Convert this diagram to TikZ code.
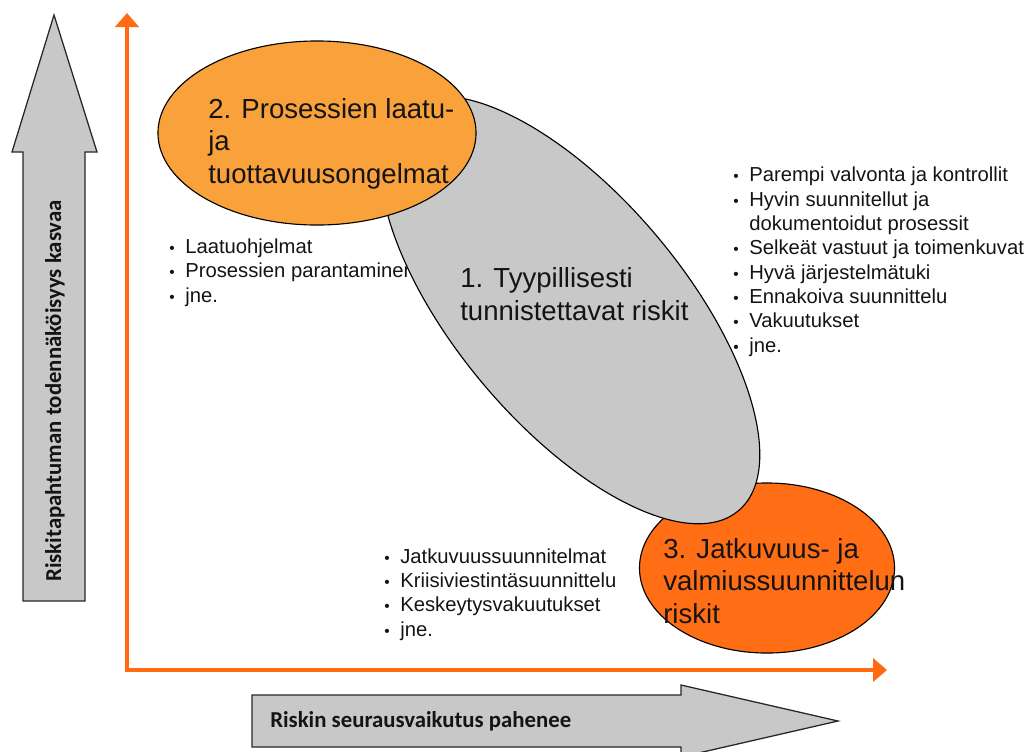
\documentclass[tikz,border=0pt]{standalone}
\usepackage{fontspec}
\setmainfont{Liberation Sans}
\newfontfamily\axisfont{Carlito}
\usetikzlibrary{shapes.geometric, arrows.meta, positioning}
\definecolor{axisorange}{RGB}{255,106,19}
\definecolor{lightorange}{RGB}{249,162,60}
\definecolor{darkorange}{RGB}{255,110,20}
\definecolor{riskgray}{RGB}{200,200,200}
\definecolor{textdark}{RGB}{20,20,20}
\newcommand{\bul}{\makebox[0.4cm][l]{\fontsize{11}{11}\selectfont\textbullet}}
\tikzset{
  riskell/.style={ellipse, draw=black, line width=0.8pt, inner sep=0pt},
  title/.style={align=left, font=\fontsize{19.6}{23}\selectfont, text=textdark, inner sep=0pt},
  bullets/.style={align=left, font=\fontsize{14.4}{17.3}\selectfont, text=textdark, inner sep=0pt},
  axis/.style={{Triangle[length=0.35cm, width=0.58cm]}-{Triangle[length=0.35cm, width=0.58cm]}, line width=2.5pt, color=axisorange},
  bigarrow/.style={draw=black!85, fill=riskgray, line width=0.9pt},
  axislabel/.style={font=\axisfont\bfseries\fontsize{16.2}{19}\selectfont, text=textdark, inner sep=0pt}
}

\begin{document}
\begin{tikzpicture}[x=0.025cm, y=-0.025cm]
  \useasboundingbox (0,0) rectangle (1029,751);

  % Gray direction arrows
  \draw[bigarrow] (23,601) -- (23,152) -- (12,152) -- (54,15) -- (97,152) -- (85,152) -- (85,601) -- cycle;
  \node[axislabel, rotate=90] (problabel) at (55,391) {Riskitapahtuman todennäköisyys kasvaa};
  \draw[bigarrow] (252,695) -- (681,695) -- (681,685) -- (838,721) -- (681,757) -- (681,747) -- (252,747) -- cycle;
  \node[axislabel, anchor=west] (impactlabel) at (270,721) {Riskin seurausvaikutus pahenee};

  % Axes
  \coordinate (origin) at (127,670);
  \coordinate (ytop) at (127,13);
  \coordinate (xend) at (887,670);
  \draw[axis] (ytop) -- (origin) -- (xend);

  % Measures (anchored at the baseline of the last line)
  \node[bullets, anchor=base west] (qualitylist) at (169,302) {\bul Laatuohjelmat\\\bul Prosessien parantaminen\\\bul jne.};
  \node[bullets, anchor=base west] (controllist) at (733,352) {\bul Parempi valvonta ja kontrollit\\\bul Hyvin suunnitellut ja\\\hspace*{0.4cm}dokumentoidut prosessit\\\bul Selkeät vastuut ja toimenkuvat\\\bul Hyvä järjestelmätuki\\\bul Ennakoiva suunnittelu\\\bul Vakuutukset\\\bul jne.};
  \node[bullets, anchor=base west] (continuitylist) at (384,636) {\bul Jatkuvuussuunnitelmat\\\bul Kriisiviestintäsuunnittelu\\\bul Keskeytysvakuutukset\\\bul jne.};

  % Risk groups
  \node[riskell, fill=darkorange, minimum width=6.375cm, minimum height=4.25cm] (contell) at (767,568) {};
  \node[riskell, fill=riskgray, minimum width=13.1cm, minimum height=5.7cm, rotate=-50] (typell) at (570,310) {};
  \node[riskell, fill=lightorange, minimum width=7.95cm, minimum height=4.6cm] (qualell) at (317,133) {};

  % Group titles
  \node[title, anchor=base west] (qualtitle) at (208,183) {2. Prosessien laatu-\\ja\\tuottavuusongelmat};
  \node[title, anchor=base west] (typtitle) at (460,320) {1. Tyypillisesti\\tunnistettavat riskit};
  \node[title, anchor=base west] (conttitle) at (663,623) {3. Jatkuvuus- ja\\valmiussuunnittelun\\riskit};
\end{tikzpicture}
\end{document}
